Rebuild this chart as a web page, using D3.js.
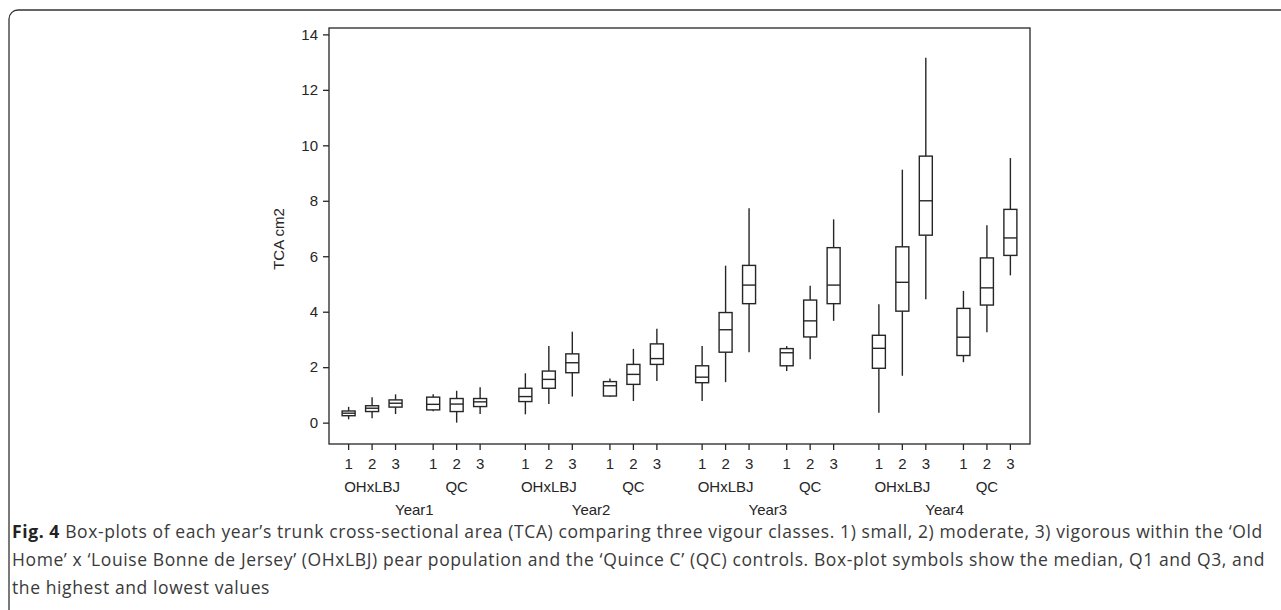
<!DOCTYPE html>
<html>
<head>
<meta charset="utf-8">
<script src="https://cdn.jsdelivr.net/npm/d3@7"></script>
<style>
    body { margin: 0; background: #fff; }
    .chart { width: 1281px; height: 610px; }
</style>
</head>
<body>
<div class="chart"></div>
<script>
// categories
var years = ['Year1', 'Year2', 'Year3', 'Year4'];
var groups = ['OHxLBJ', 'QC'];
var classes = ['1', '2', '3'];
var yTicks = [0, 2, 4, 6, 8, 10, 12, 14];

// box values, order: year > group > class
var mins    = [0.12, 0.16, 0.31, 0.41, 0.00, 0.31,  0.30, 0.67, 0.94, 0.93, 0.78, 1.50,  0.78, 1.46, 2.54, 1.86, 2.29, 3.67,  0.36, 1.69, 4.45, 2.18, 3.26, 5.31];
var q1s     = [0.25, 0.40, 0.56, 0.46, 0.40, 0.58,  0.76, 1.24, 1.80, 0.96, 1.38, 2.10,  1.44, 2.54, 4.29, 2.05, 3.09, 4.29,  1.96, 4.02, 6.76, 2.42, 4.24, 6.03];
var medians = [0.34, 0.52, 0.70, 0.66, 0.67, 0.75,  0.94, 1.56, 2.16, 1.33, 1.74, 2.31,  1.64, 3.35, 4.96, 2.52, 3.67, 4.96,  2.68, 5.06, 8.00, 3.08, 4.86, 6.66];
var q3s     = [0.42, 0.61, 0.82, 0.92, 0.87, 0.87,  1.24, 1.86, 2.48, 1.48, 2.10, 2.84,  2.05, 3.97, 5.67, 2.67, 4.42, 6.31,  3.15, 6.34, 9.61, 4.12, 5.94, 7.69];
var maxs    = [0.57, 0.92, 1.02, 1.02, 1.15, 1.28,  1.78, 2.76, 3.28, 1.59, 2.66, 3.39,  2.76, 5.66, 7.73, 2.76, 4.94, 7.33,  4.27, 9.12, 13.16, 4.75, 7.12, 9.54];

var captionLines = [
    ['Fig. 4', ' Box-plots of each year\u2019s trunk cross-sectional area (TCA) comparing three vigour classes. 1) small, 2) moderate, 3) vigorous within the \u2018Old'],
    ['', 'Home\u2019 x \u2018Louise Bonne de Jersey\u2019 (OHxLBJ) pear population and the \u2018Quince C\u2019 (QC) controls. Box-plot symbols show the median, Q1 and Q3, and'],
    ['', 'the highest and lowest values']
];

function draw() {
    var width = 1281, height = 610;
    var left = 329, right = 1030, top = 28, bottom = 444;
    var ink = '#262626';

    var svg = d3.select('.chart').append('svg')
        .attr('width', width)
        .attr('height', height)
        .style('font-family', 'Arial, "Liberation Sans", sans-serif');

    // figure frame
    svg.append('rect')
        .attr('x', 9).attr('y', 10)
        .attr('width', 1300).attr('height', 640)
        .attr('rx', 9)
        .style('fill', 'none').style('stroke', '#333').style('stroke-width', 1.3);

    // rows for every box
    var rows = [];
    years.forEach(function (yr, yi) {
        groups.forEach(function (g, gi) {
            classes.forEach(function (c, ci) {
                var i = yi * 6 + gi * 3 + ci;
                rows.push({year: yr, group: g, cls: c,
                    min: mins[i], q1: q1s[i], med: medians[i], q3: q3s[i], max: maxs[i]});
            });
        });
    });

    var y = d3.scaleLinear().domain([-0.77, 14.23]).range([bottom, top]);

    var xYear = d3.scaleBand().domain(years).range([left, right])
        .paddingInner(0.256).paddingOuter(0.111);
    var xGroup = d3.scaleBand().domain(groups).range([0, xYear.bandwidth()])
        .paddingInner(0.445);
    var xClass = d3.scalePoint().domain(classes).range([0, xGroup.bandwidth()]);

    function xPos(d) {
        return xYear(d.year) + xGroup(d.group) + xClass(d.cls);
    }

    // plot frame
    svg.append('rect')
        .attr('x', left).attr('y', top)
        .attr('width', right - left).attr('height', bottom - top)
        .style('fill', 'none').style('stroke', ink).style('stroke-width', 1.3);

    // y axis
    var yAxis = svg.append('g').attr('transform', 'translate(' + left + ',0)')
        .call(d3.axisLeft(y).tickValues(yTicks).tickSize(6).tickPadding(5));
    yAxis.select('.domain').remove();
    yAxis.selectAll('line').style('stroke', ink).style('stroke-width', 1.3);
    yAxis.selectAll('text').style('font-size', '15px').style('fill', ink)
        .style('font-family', 'Arial, "Liberation Sans", sans-serif');

    svg.append('text')
        .text('TCA cm2')
        .attr('transform', 'translate(284,' + ((top + bottom) / 2 + 3) + ') rotate(-90)')
        .attr('text-anchor', 'middle')
        .style('font-size', '15px').style('fill', ink);

    // x ticks + labels
    var xt = svg.append('g');
    xt.selectAll('line').data(rows).enter().append('line')
        .attr('x1', xPos).attr('x2', xPos)
        .attr('y1', bottom).attr('y2', bottom + 6)
        .style('stroke', ink).style('stroke-width', 1.3);
    xt.selectAll('text').data(rows).enter().append('text')
        .text(function (d) { return d.cls; })
        .attr('x', xPos).attr('y', bottom + 25)
        .attr('text-anchor', 'middle')
        .style('font-size', '15px').style('fill', ink);

    var groupLabels = [];
    years.forEach(function (yr) {
        groups.forEach(function (g) { groupLabels.push({year: yr, group: g}); });
    });
    svg.append('g').selectAll('text').data(groupLabels).enter().append('text')
        .text(function (d) { return d.group; })
        .attr('x', function (d) { return xYear(d.year) + xGroup(d.group) + xGroup.bandwidth() / 2; })
        .attr('y', bottom + 48)
        .attr('text-anchor', 'middle')
        .style('font-size', '15px').style('fill', ink);

    svg.append('g').selectAll('text').data(years).enter().append('text')
        .text(function (d) { return d; })
        .attr('x', function (d) { return xYear(d) + xYear.bandwidth() / 2; })
        .attr('y', bottom + 71)
        .attr('text-anchor', 'middle')
        .style('font-size', '15px').style('fill', ink);

    // boxes
    var bw = 13;
    var box = svg.append('g').selectAll('.box').data(rows).enter().append('g').attr('class', 'box');
    box.append('line')
        .attr('x1', xPos).attr('x2', xPos)
        .attr('y1', function (d) { return y(d.max); })
        .attr('y2', function (d) { return y(d.q3); });
    box.append('line')
        .attr('x1', xPos).attr('x2', xPos)
        .attr('y1', function (d) { return y(d.q1); })
        .attr('y2', function (d) { return y(d.min); });
    box.append('rect')
        .attr('x', function (d) { return xPos(d) - bw / 2; })
        .attr('y', function (d) { return y(d.q3); })
        .attr('width', bw)
        .attr('height', function (d) { return y(d.q1) - y(d.q3); })
        .style('fill', '#fff');
    box.append('line')
        .attr('x1', function (d) { return xPos(d) - bw / 2; })
        .attr('x2', function (d) { return xPos(d) + bw / 2; })
        .attr('y1', function (d) { return y(d.med); })
        .attr('y2', function (d) { return y(d.med); });
    box.selectAll('line, rect').style('stroke', ink).style('stroke-width', 1.4);

    // caption
    var cap = svg.append('g')
        .style('font-family', '"Open Sans", "Noto Sans", sans-serif')
        .style('font-size', '17.5px').style('letter-spacing', '0.6px')
        .style('fill', '#3a3a3a');
    captionLines.forEach(function (l, i) {
        var t = cap.append('text').attr('x', 12).attr('y', 538 + i * 28);
        if (l[0]) {
            t.append('tspan').text(l[0]).style('font-weight', 'bold').style('fill', '#222');
        }
        t.append('tspan').text(l[1]);
    });
}

draw();
</script>
</body>
</html>
